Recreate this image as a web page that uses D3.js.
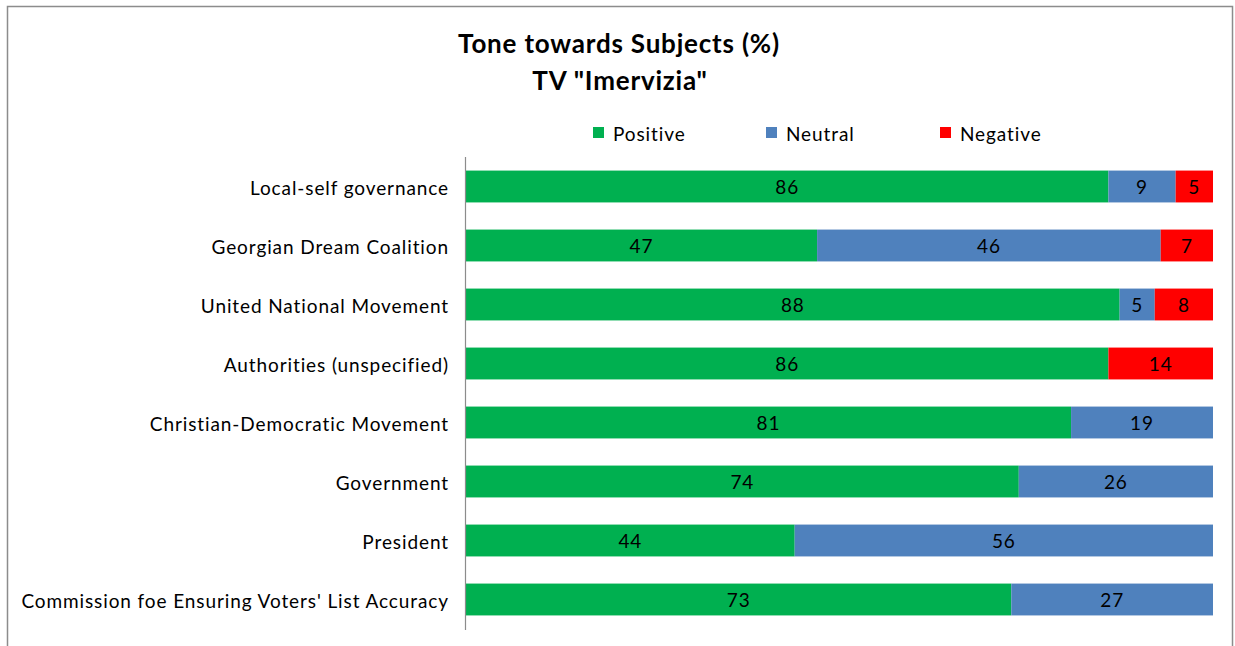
<!DOCTYPE html>
<html>
<head>
<meta charset="utf-8">
<script src="https://cdn.jsdelivr.net/npm/d3@7"></script>
<style>
  body { margin: 0; background: #fff; }
  svg text { font-family: Lato, "Open Sans", sans-serif; fill: #000; }
</style>
</head>
<body>
<div id="chart"></div>
<script>
const categories = [
  'Local-self governance',
  'Georgian Dream Coalition',
  'United National Movement',
  'Authorities (unspecified)',
  'Christian-Democratic Movement',
  'Government',
  'President',
  "Commission foe Ensuring Voters' List Accuracy"
];
const seriesNames = ['Positive', 'Neutral', 'Negative'];
const positive = [86, 47, 87.5, 86, 81, 74, 44, 73];
const neutral = [9, 46, 4.7, 0, 19, 26, 56, 27];
const negative = [5, 7, 7.8, 14, 0, 0, 0, 0];
const colors = ['#00b050', '#4f81bd', '#ff0000'];

const width = 1235, height = 646;
const margin = { top: 157, right: 22, bottom: 17, left: 466 };

const svg = d3.select('#chart').append('svg')
  .attr('width', width)
  .attr('height', height);

// chart border
svg.append('rect')
  .attr('x', 7.5).attr('y', 6.5)
  .attr('width', 1225).attr('height', 660)
  .attr('fill', 'none')
  .attr('stroke', '#8c8c8c')
  .attr('stroke-width', 1.5);

const rows = categories.map((c, i) => ({
  category: c, Positive: positive[i], Neutral: neutral[i], Negative: negative[i]
}));
const stacked = d3.stack().keys(seriesNames)
  .offset(d3.stackOffsetExpand)(rows);

const x = d3.scaleLinear().domain([0, 1])
  .range([margin.left, 1213]);
const y = d3.scaleBand().domain(categories)
  .range([margin.top, height - margin.bottom])
  .paddingInner(0.46).paddingOuter(0.23);
const color = d3.scaleOrdinal().domain(seriesNames).range(colors);

const layers = svg.selectAll('g.layer')
  .data(stacked)
  .enter().append('g')
  .attr('class', 'layer')
  .attr('fill', d => color(d.key));

layers.selectAll('rect')
  .data(d => d)
  .enter().append('rect')
  .attr('x', d => x(d[0]))
  .attr('y', d => y(d.data.category))
  .attr('width', d => x(d[1]) - x(d[0]))
  .attr('height', y.bandwidth());

layers.selectAll('text')
  .data(d => d.filter(s => s[1] - s[0] > 0).map(s => ({ s, key: d.key })))
  .enter().append('text')
  .attr('x', d => (x(d.s[0]) + x(d.s[1])) / 2)
  .attr('y', d => y(d.s.data.category) + y.bandwidth() / 2)
  .attr('dy', '0.42em')
  .attr('text-anchor', 'middle')
  .style('font-size', '19px')
  .style('letter-spacing', '0.9px')
  .text(d => Math.round(d.s.data[d.key]));

// category axis
const yAxis = d3.axisLeft(y).tickSize(0).tickPadding(17);
const yG = svg.append('g')
  .attr('transform', `translate(${margin.left}, 0)`)
  .call(yAxis);
yG.select('.domain').remove();
yG.selectAll('text')
  .attr('dy', '0.45em')
  .style('font-size', '19px')
  .style('letter-spacing', '0.9px')
  .style('font-family', 'Lato, "Open Sans", sans-serif');

svg.append('line')
  .attr('x1', 465.5).attr('x2', 465.5)
  .attr('y1', margin.top).attr('y2', height - margin.bottom + 1)
  .attr('stroke', '#8c8c8c')
  .attr('stroke-width', 1.2);

// title
svg.append('text')
  .attr('x', 619).attr('y', 53)
  .attr('text-anchor', 'middle')
  .style('font-size', '26px').style('font-weight', 'bold')
  .style('letter-spacing', '0.8px')
  .text('Tone towards Subjects (%)');
svg.append('text')
  .attr('x', 620).attr('y', 90)
  .attr('text-anchor', 'middle')
  .style('font-size', '26px').style('font-weight', 'bold')
  .style('letter-spacing', '0.8px')
  .text('TV "Imervizia"');

// legend
const legendX = [593, 766, 940];
const legend = svg.selectAll('g.legend')
  .data(seriesNames)
  .enter().append('g')
  .attr('class', 'legend')
  .attr('transform', (d, i) => `translate(${legendX[i]}, 127)`);
legend.append('rect')
  .attr('width', 11).attr('height', 11)
  .attr('fill', d => color(d));
legend.append('text')
  .attr('x', 20).attr('y', 6)
  .attr('dy', '0.42em')
  .style('font-size', '19px')
  .style('letter-spacing', '0.9px')
  .text(d => d);
</script>
</body>
</html>
